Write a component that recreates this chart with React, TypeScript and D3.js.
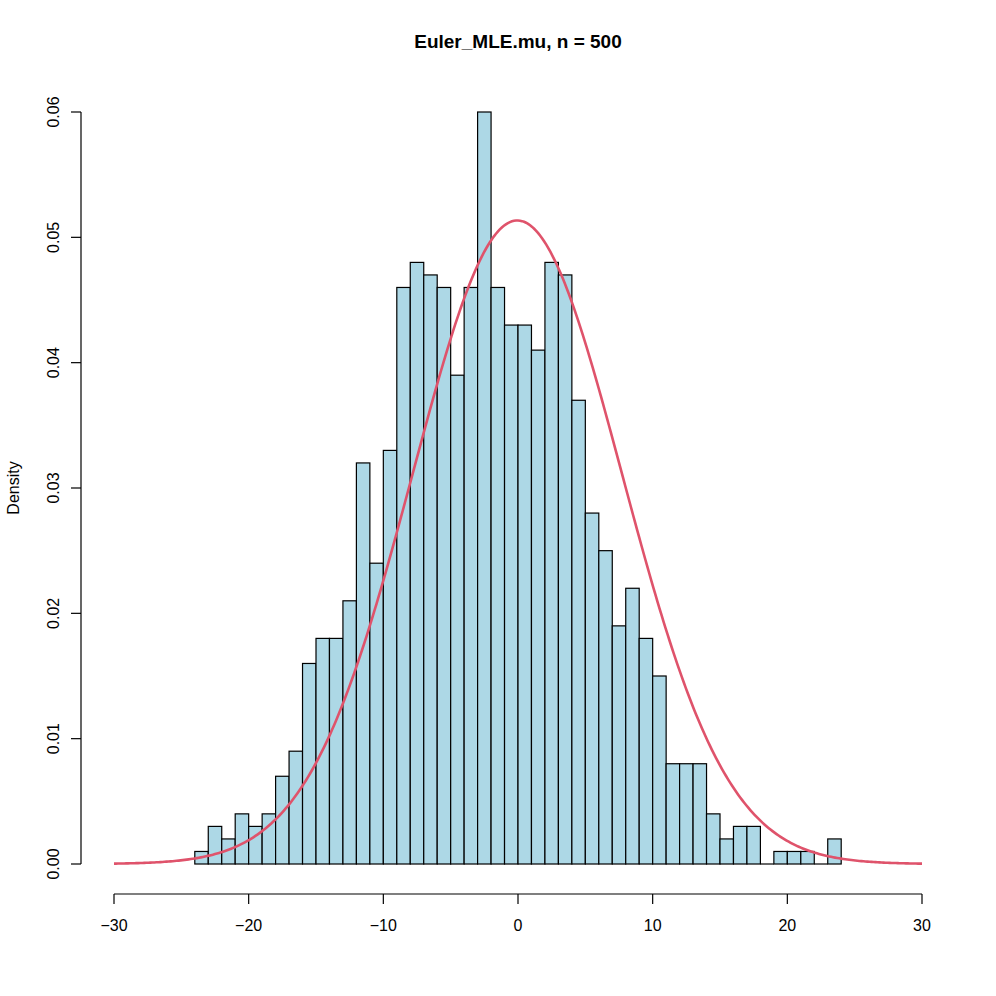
import React from "react";
import * as d3 from "d3";

const binStarts: number[] = [
  -24, -23, -22, -21, -20, -19, -18, -17, -16, -15, -14, -13,
  -12, -11, -10, -9, -8, -7, -6, -5, -4, -3, -2, -1,
  0, 1, 2, 3, 4, 5, 6, 7, 8, 9, 10, 11,
  12, 13, 14, 15, 16, 17, 18, 19, 20, 21, 22, 23,
];
const densities: number[] = [
  0.001, 0.003, 0.002, 0.004, 0.003, 0.004, 0.007, 0.009, 0.016, 0.018, 0.018, 0.021,
  0.032, 0.024, 0.033, 0.046, 0.048, 0.047, 0.046, 0.039, 0.046, 0.06, 0.046, 0.043,
  0.043, 0.041, 0.048, 0.047, 0.037, 0.028, 0.025, 0.019, 0.022, 0.018, 0.015, 0.008,
  0.008, 0.008, 0.004, 0.002, 0.003, 0.003, 0, 0.001, 0.001, 0.001, 0, 0.002,
];
const binWidth = 1;
const xTicks: number[] = [-30, -20, -10, 0, 10, 20, 30];
const yTicks: number[] = [0, 0.01, 0.02, 0.03, 0.04, 0.05, 0.06];
const normMean = -0.05;
const normSd = 7.77;
const title = "Euler_MLE.mu, n = 500";
const yLabel = "Density";

const W = 996;
const H = 996;
const FONT = "'Liberation Sans', Arial, Helvetica, sans-serif";

export default function App() {
  const x = d3.scaleLinear().domain([-30, 30]).range([114, 922]);
  const y = d3.scaleLinear().domain([0, 0.06]).range([864, 112]);

  const curveXs = d3.range(0, 401).map((i) => -30 + (60 * i) / 400);
  const dnorm = (v: number) =>
    Math.exp(-0.5 * ((v - normMean) / normSd) ** 2) / (normSd * Math.sqrt(2 * Math.PI));
  const line = d3
    .line<number>()
    .x((d) => x(d))
    .y((d) => y(dnorm(d)));

  const fmtY = (v: number) => v.toFixed(2);
  const fmtX = (v: number) => (v < 0 ? "\u2212" + Math.abs(v) : String(v));

  const axisY = 894;
  const axisX = 81;

  return (
    <svg width={W} height={H} style={{ display: "block", position: "absolute", left: 0, top: 0, background: "#fff" }}>
      <rect x={0} y={0} width={W} height={H} fill="#fff" />
      {binStarts.map((b, i) =>
        densities[i] > 0 ? (
          <rect
            key={i}
            x={x(b)}
            y={y(densities[i])}
            width={x(b + binWidth) - x(b)}
            height={y(0) - y(densities[i])}
            fill="#ADD8E6"
            stroke="#000"
            strokeWidth={1.2}
          />
        ) : (
          <line key={i} x1={x(b)} x2={x(b + binWidth)} y1={y(0)} y2={y(0)} stroke="#000" strokeWidth={1.2} />
        )
      )}
      <path d={line(curveXs) || ""} fill="none" stroke="#DF536B" strokeWidth={2.6} />

      {/* x axis */}
      <line x1={x(-30)} x2={x(30)} y1={axisY} y2={axisY} stroke="#000" strokeWidth={1.2} />
      {xTicks.map((t) => (
        <g key={t}>
          <line x1={x(t)} x2={x(t)} y1={axisY} y2={axisY + 10} stroke="#000" strokeWidth={1.2} />
          <text x={x(t)} y={931} textAnchor="middle" fontFamily={FONT} fontSize={16}>
            {fmtX(t)}
          </text>
        </g>
      ))}

      {/* y axis */}
      <line x1={axisX} x2={axisX} y1={y(0)} y2={y(0.06)} stroke="#000" strokeWidth={1.2} />
      {yTicks.map((t) => (
        <g key={t}>
          <line x1={axisX - 10} x2={axisX} y1={y(t)} y2={y(t)} stroke="#000" strokeWidth={1.2} />
          <text
            transform={`translate(59, ${y(t)}) rotate(-90)`}
            textAnchor="middle"
            fontFamily={FONT}
            fontSize={16}
          >
            {fmtY(t)}
          </text>
        </g>
      ))}

      <text transform={`translate(19, 488) rotate(-90)`} textAnchor="middle" fontFamily={FONT} fontSize={16}>
        {yLabel}
      </text>
      <text x={518} y={48} textAnchor="middle" fontFamily={FONT} fontSize={19} fontWeight="bold">
        {title}
      </text>
    </svg>
  );
}
